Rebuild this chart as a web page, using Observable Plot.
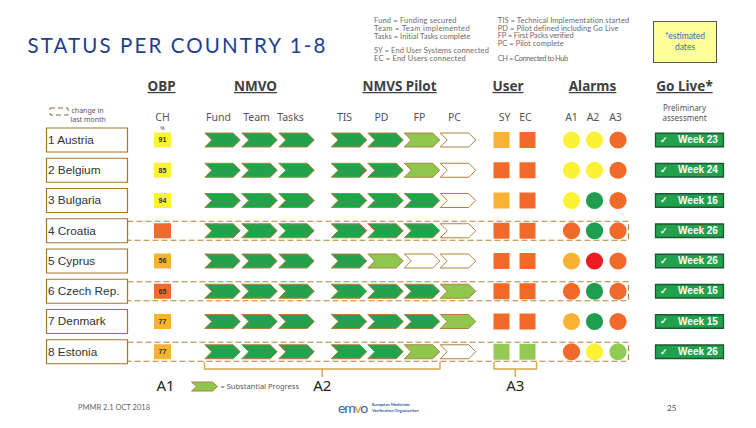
<!DOCTYPE html>
<html><head><meta charset="utf-8">
<script src="https://cdn.jsdelivr.net/npm/d3@7"></script>
<script src="https://cdn.jsdelivr.net/npm/@observablehq/plot@0.6"></script>
<style>
html,body{margin:0;padding:0;background:#fff;}
#wrap{position:relative;width:756px;height:428px;overflow:hidden;font-family:Lato,"Open Sans",sans-serif;}
#chart{position:absolute;left:0;top:0;}
.abs{position:absolute;white-space:nowrap;line-height:1;}
.lg{font-size:7.5px;color:#6a6a6a;}
</style></head><body>
<div id="wrap">
  <div id="chart"></div>
  <div class="abs fit" data-w="300" style="left:27.5px;top:35px;font-size:20.5px;color:#213f8d;">STATUS PER COUNTRY 1-8</div>
  <div id="legend"></div>
  <div class="abs" style="left:652.5px;top:21px;width:62px;height:40px;background:#ffff99;border:1px solid #555;"></div>
  <div class="abs" style="left:653px;top:30.5px;width:64px;text-align:center;font-size:8.5px;color:#2f6db5;line-height:11.5px;">*estimated<br>dates</div>
  <div class="abs" style="left:78px;top:404px;font-size:7.5px;color:#666;">PMMR 2.1 OCT 2018</div>
  <div class="abs fit" data-w="29" style="left:338px;top:401px;font-size:14px;color:#3a5ca8;">em<span style="color:#e8912c">v</span>o</div>
  <div class="abs" style="left:372px;top:401.5px;font-size:4.2px;color:#2d56a6;font-weight:bold;line-height:6.5px;">European Medicines<br>Verification Organisation</div>
  <div class="abs" style="left:667px;top:404px;font-size:8px;color:#555;">25</div>
</div>
<script>
// ---------------- data ----------------
const countries = ["1 Austria","2 Belgium","3 Bulgaria","4 Croatia","5 Cyprus","6 Czech Rep.","7 Denmark","8 Estonia"];
const changedLastMonth = [false,false,false,true,false,true,false,true];
const chPercent = [91,85,94,null,56,65,77,77];
const chStatus = ["yellow","yellow","yellow","orange","amber","orange","amber","amber"];
const nmvoCols = ["Fund","Team","Tasks"];
const nmvoStatus = [
  ["done","done","done"],["done","done","done"],["done","done","done"],["done","done","done"],
  ["done","done","done"],["done","done","done"],["done","done","done"],["done","done","done"]];
const nmvsCols = ["TIS","PD","FP","PC"];
const nmvsStatus = [
  ["done","done","progress","none"],
  ["done","done","progress","none"],
  ["done","done","done","none"],
  ["done","done","done","none"],
  ["done","progress","none","none"],
  ["done","done","done","progress"],
  ["done","done","done","progress"],
  ["done","done","progress","none"]];
const userCols = ["SY","EC"];
const userStatus = [
  ["amber","orange"],["orange","orange"],["amber","orange"],["orange","orange"],
  ["orange","orange"],["orange","orange"],["orange","orange"],["lightgreen","lightgreen"]];
const alarmCols = ["A1","A2","A3"];
const alarmStatus = [
  ["yellow","yellow","orange"],
  ["yellow","yellow","orange"],
  ["yellow","green","orange"],
  ["orange","green","orange"],
  ["amber","red","orange"],
  ["orange","green","orange"],
  ["amber","green","orange"],
  ["orange","yellow","lightgreen"]];
const goLiveWeek = [23,24,16,26,26,16,15,26];
const groupHeaders = ["OBP","NMVO","NMVS Pilot","User","Alarms","Go Live*"];
const statusKeys = ["done","progress","none","yellow","amber","orange","red","green","lightgreen"];
const statusColors = ["#23a14c","#8fc74e","#ffffff","#fbf236","#f9b233","#f26a2a","#ec1c24","#1f9e4f","#93c955"];
const legendLeft = [["Fund = Funding secured",82.7],["Team = Team implemented",96],["Tasks = Initial Tasks complete",96.7],["",0],["SY = End User Systems connected",115],["EC = End Users connected",92]];
const legendRight = [["TIS = Technical Implementation started",131.7],["PD = Pilot defined including Go Live",120.7],["FP = First Packs verified",75.7],["PC = Pilot complete",66],["",0],["CH = Connected to Hub",70]];

// ---------------- layout ----------------
const colX = {name:86.5, CH:162, Fund:222, Team:259, Tasks:296, TIS:348.5, PD:385, FP:421.5, PC:457.5, SY:501, EC:527, A1:571, A2:594, A3:617.5, GoLive:689};
const headX = {"OBP":161,"NMVO":255,"NMVS Pilot":399,"User":507.5,"Alarms":592,"Go Live*":684};
const subX = {CH:162, Fund:218, Team:256, Tasks:290, TIS:344, PD:381, FP:419, PC:454, SY:504, EC:525, A1:571, A2:592.5, A3:615};

// top legend (HTML text)
const lg = document.getElementById("legend");
function addLegend(list, left, tops){
  list.forEach(([t,w],i)=>{ if(!t) return;
    const d=document.createElement("div"); d.className="abs lg fit"; d.dataset.w=w;
    d.style.left=left+"px"; d.style.top=tops[i]+"px"; d.textContent=t; lg.appendChild(d); });
}
addLegend(legendLeft, 374, [17,24.7,32.5,0,47,54.5]);
addLegend(legendRight, 497.7, [17,24.7,32.3,39.8,0,55.3]);

// ---------------- tables ----------------
const rows = countries.map((c,i)=>({country:c,row:i+1,changed:changedLastMonth[i],ch:chPercent[i],chStatus:chStatus[i],week:goLiveWeek[i]}));
const chevrons = rows.flatMap((r,i)=>[
  ...nmvoCols.map((c,j)=>({row:r.row,col:c,status:nmvoStatus[i][j]})),
  ...nmvsCols.map((c,j)=>({row:r.row,col:c,status:nmvsStatus[i][j]}))]);
const userCells = rows.flatMap((r,i)=>userCols.map((c,j)=>({row:r.row,col:c,status:userStatus[i][j]})));
const alarmCells = rows.flatMap((r,i)=>alarmCols.map((c,j)=>({row:r.row,col:c,status:alarmStatus[i][j]})));
const subHeaders = ["CH",...nmvoCols,...nmvsCols,...userCols,...alarmCols];
const last = rows.length;
const brackets = [
  {label:"A2", x1:colX.Fund-18, x2:colX.FP+18},
  {label:"A3", x1:colX.SY-7.5, x2:colX.EC+9}];
const bracketPts = brackets.flatMap(b=>{const m=(b.x1+b.x2)/2; return [
  {k:b.label+"a",x:b.x1,y:last+0.35},{k:b.label+"a",x:b.x1,y:last+0.57},{k:b.label+"a",x:b.x2,y:last+0.57},{k:b.label+"a",x:b.x2,y:last+0.35},
  {k:b.label+"b",x:m,y:last+0.57},{k:b.label+"b",x:m,y:last+0.82}];});
const bottomLabels = [{label:"A1",x:colX.CH+3}, ...brackets.map(b=>({label:b.label,x:(b.x1+b.x2)/2}))];

// ---------------- symbols ----------------
function chevron(w,h,d){return {draw(ctx){const a=w/2,b=h/2;ctx.moveTo(-a,-b);ctx.lineTo(a-d,-b);ctx.lineTo(a,0);ctx.lineTo(a-d,b);ctx.lineTo(-a,b);ctx.lineTo(-a+d,0);ctx.closePath();}};}
function box(w,h){return {draw(ctx){ctx.rect(-w/2,-h/2,w,h);}};}

const brown="#b0833c";
const plot = Plot.plot({
  width:756, height:428, margin:0,
  x:{domain:[0,756], range:[0,756], axis:null},
  y:{domain:[0.5,8.5], range:[124.375,366.375], axis:null},
  color:{type:"ordinal", domain:statusKeys, range:statusColors},
  style:{background:"transparent", overflow:"visible"},
  marks:[
    // changed-in-last-month dashed rows
    Plot.dot(rows.filter(d=>d.changed), {x:(127+628)/2, y:"row", symbol:box(501,19), fill:"none", stroke:"#b5843a", strokeWidth:1.2, strokeDasharray:"6,3"}),
    // country boxes
    Plot.dot(rows, {x:colX.name, y:"row", symbol:box(81,24), fill:"white", stroke:"#a8732f", strokeWidth:1.2}),
    Plot.text(rows, {x:47.5, y:"row", text:"country", textAnchor:"start", fontFamily:"Liberation Sans, Arial, sans-serif", fontSize:11.8, fill:"#333", letterSpacing:"-0.35px"}),
    // CH
    Plot.dot(rows, {x:colX.CH, y:"row", symbol:box(17,15), fill:"chStatus"}),
    Plot.text(rows.filter(d=>d.ch!=null), {x:colX.CH, y:"row", text:"ch", fontSize:7, fontWeight:"bold", fill:"#333", fontFamily:"Liberation Sans, Arial, sans-serif"}),
    // chevrons
    Plot.dot(chevrons, {x:d=>colX[d.col], y:"row", symbol:chevron(35.5,14,7), fill:"status", stroke:brown, strokeWidth:1}),
    // user squares
    Plot.dot(userCells, {x:d=>colX[d.col], y:"row", symbol:box(16,16), fill:"status"}),
    // alarms
    Plot.dot(alarmCells, {x:d=>colX[d.col], y:"row", r:8.6, fill:"status"}),
    // go live
    Plot.dot(rows, {x:colX.GoLive, y:"row", symbol:box(68,13.5), fill:"#22a14c", stroke:"#1d5632", strokeWidth:1.3}),
    Plot.text(rows, {x:663, y:"row", text:()=>"✓", fill:"white", fontSize:9, fontWeight:"bold"}),
    Plot.text(rows, {x:697.5, y:"row", text:d=>"Week "+d.week, fill:"white", fontSize:10, fontWeight:"bold", fontFamily:"Liberation Sans, Arial, sans-serif"}),
    // headers
    Plot.text(groupHeaders, {x:d=>headX[d], text:d=>d, frameAnchor:"top", dy:81, fontSize:13.5, fontWeight:"bold", fill:"#404040"}),
    Plot.text(subHeaders, {x:d=>subX[d], text:d=>d, frameAnchor:"top", dy:113.5, fontSize:10.5, fill:"#555"}),
    Plot.text(["%"], {x:colX.CH, text:d=>d, frameAnchor:"top", dy:125.5, fontSize:6, fill:"#555"}),
    Plot.text(["Preliminary"], {x:headX["Go Live*"], text:d=>d, frameAnchor:"top", dy:104.5, fontSize:8, fill:"#555"}),
    Plot.text(["assessment"], {x:headX["Go Live*"], text:d=>d, frameAnchor:"top", dy:115, fontSize:8, fill:"#555"}),
    // change legend
    Plot.dot(["change"], {x:58.5, frameAnchor:"top", dy:111, symbol:box(18,7), fill:"none", stroke:"#8a6a3a", strokeWidth:1, strokeDasharray:"5,3"}),
    Plot.text(["change in"], {x:71, text:d=>d, frameAnchor:"top", dy:108, textAnchor:"start", fontSize:7, fill:"#555"}),
    Plot.text(["last month"], {x:70, text:d=>d, frameAnchor:"top", dy:117, textAnchor:"start", fontSize:7, fill:"#555"}),
    // brackets and bottom labels
    Plot.line(bracketPts, {x:"x", y:"y", z:"k", stroke:"#dba546", strokeWidth:1.4}),
    Plot.text(bottomLabels, {x:"x", y:()=>last+1.15, text:"label", fontSize:15, fill:"#222"}),
    Plot.dot(["progress"], {x:204, y:()=>last+1.15, symbol:chevron(26,9,5), fill:d=>d, stroke:brown, strokeWidth:1}),
    Plot.text(["= Substantial Progress"], {x:220, y:()=>last+1.15, text:d=>d, textAnchor:"start", fontSize:7.5, fill:"#555"})
  ]
});
document.getElementById("chart").appendChild(plot);
// underline the group headers
plot.querySelectorAll("text").forEach(t=>{
  if(!groupHeaders.includes(t.textContent)) return;
  const b=t.getBBox();
  const ln=document.createElementNS("http://www.w3.org/2000/svg","line");
  const y=b.y+b.height*0.86;
  ln.setAttribute("x1",b.x); ln.setAttribute("x2",b.x+b.width);
  ln.setAttribute("y1",y); ln.setAttribute("y2",y);
  ln.setAttribute("stroke","#404040"); ln.setAttribute("stroke-width","1.3");
  if(t.getAttribute("transform")) ln.setAttribute("transform",t.getAttribute("transform"));
  t.parentNode.appendChild(ln);
});
// fit widths of HTML texts
document.querySelectorAll(".fit").forEach(el=>{
  const target=+el.dataset.w; if(!target) return;
  const w=el.getBoundingClientRect().width; const n=el.textContent.length;
  el.style.letterSpacing=((target-w)/n)+"px";
});
</script>
</body></html>
